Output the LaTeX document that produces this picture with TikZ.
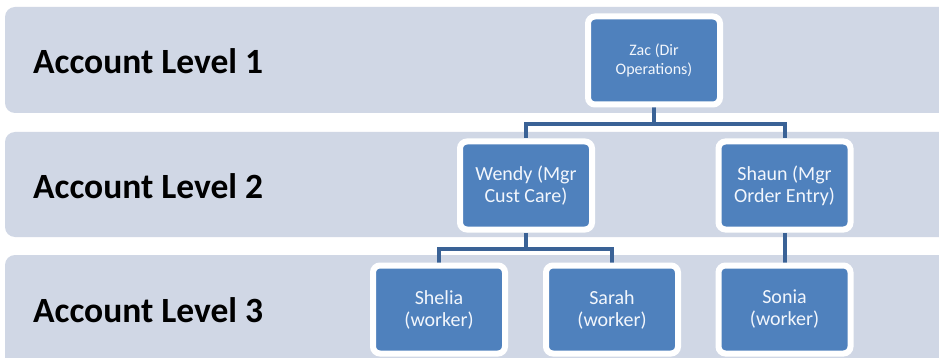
\documentclass[tikz,border=0pt]{standalone}
\usepackage{fontspec}
\setmainfont{Carlito}
\usetikzlibrary{shadows}
\definecolor{bandc}{RGB}{208,215,229}
\definecolor{boxc}{RGB}{79,129,189}
\definecolor{linec}{RGB}{58,98,150}
\definecolor{textc}{RGB}{242,246,252}
\pgfdeclarelayer{bands}
\pgfdeclarelayer{lines}
\pgfsetlayers{bands,lines,main}
\tikzset{
  band/.style={fill=bandc, rounded corners=10pt},
  lvl/.style={anchor=west, font=\fontsize{35.5}{40}\selectfont\bfseries, text=black, inner sep=0pt},
  person/.style={draw=white, line width=6pt, fill=boxc, rounded corners=7pt,
    minimum width=132pt, minimum height=88pt, text=textc, align=center, inner sep=0pt,
    font=\fontsize{20}{22}\selectfont,
    drop shadow={opacity=0.25, shadow xshift=1pt, shadow yshift=-2pt}},
  conn/.style={draw=linec, line width=4pt}
}
\begin{document}
\begin{tikzpicture}[x=1pt, y=-1pt]
\clip (0,0) rectangle (939,358);
\begin{pgfonlayer}{bands}
\fill[white] (0,0) rectangle (939,358);
\path[band] (5,7) rectangle (960,113);
\path[band] (5,132) rectangle (960,237);
\path[band] (5,255) rectangle (960,380);
\end{pgfonlayer}
\node[lvl] (l1) at (33,61) {Account Level 1};
\node[lvl] (l2) at (33,186) {Account Level 2};
\node[lvl] (l3) at (33,310) {Account Level 3};
\node[person, font=\fontsize{16}{19}\selectfont] (zac) at (654,60.5) {Zac (Dir\\Operations)};
\node[person] (wendy) at (526,185.5) {Wendy (Mgr\\Cust Care)};
\node[person] (shaun) at (784.5,185.5) {Shaun (Mgr\\Order Entry)};
\node[person] (shelia) at (439,309.5) {Shelia\\(worker)};
\node[person] (sarah) at (612,309.5) {Sarah\\(worker)};
\node[person] (sonia) at (784.5,309.5) {Sonia\\(worker)};
\coordinate (j1) at (654,124);
\coordinate (j2) at (526,249);
\begin{pgfonlayer}{lines}
\draw[conn] (zac.south) -- (j1);
\draw[conn] (j1) -| (wendy.north);
\draw[conn] (j1) -| (shaun.north);
\draw[conn] (wendy.south) -- (j2);
\draw[conn] (j2) -| (shelia.north);
\draw[conn] (j2) -| (sarah.north);
\draw[conn] (shaun.south) -- (sonia.north);
\end{pgfonlayer}
\end{tikzpicture}
\end{document}
